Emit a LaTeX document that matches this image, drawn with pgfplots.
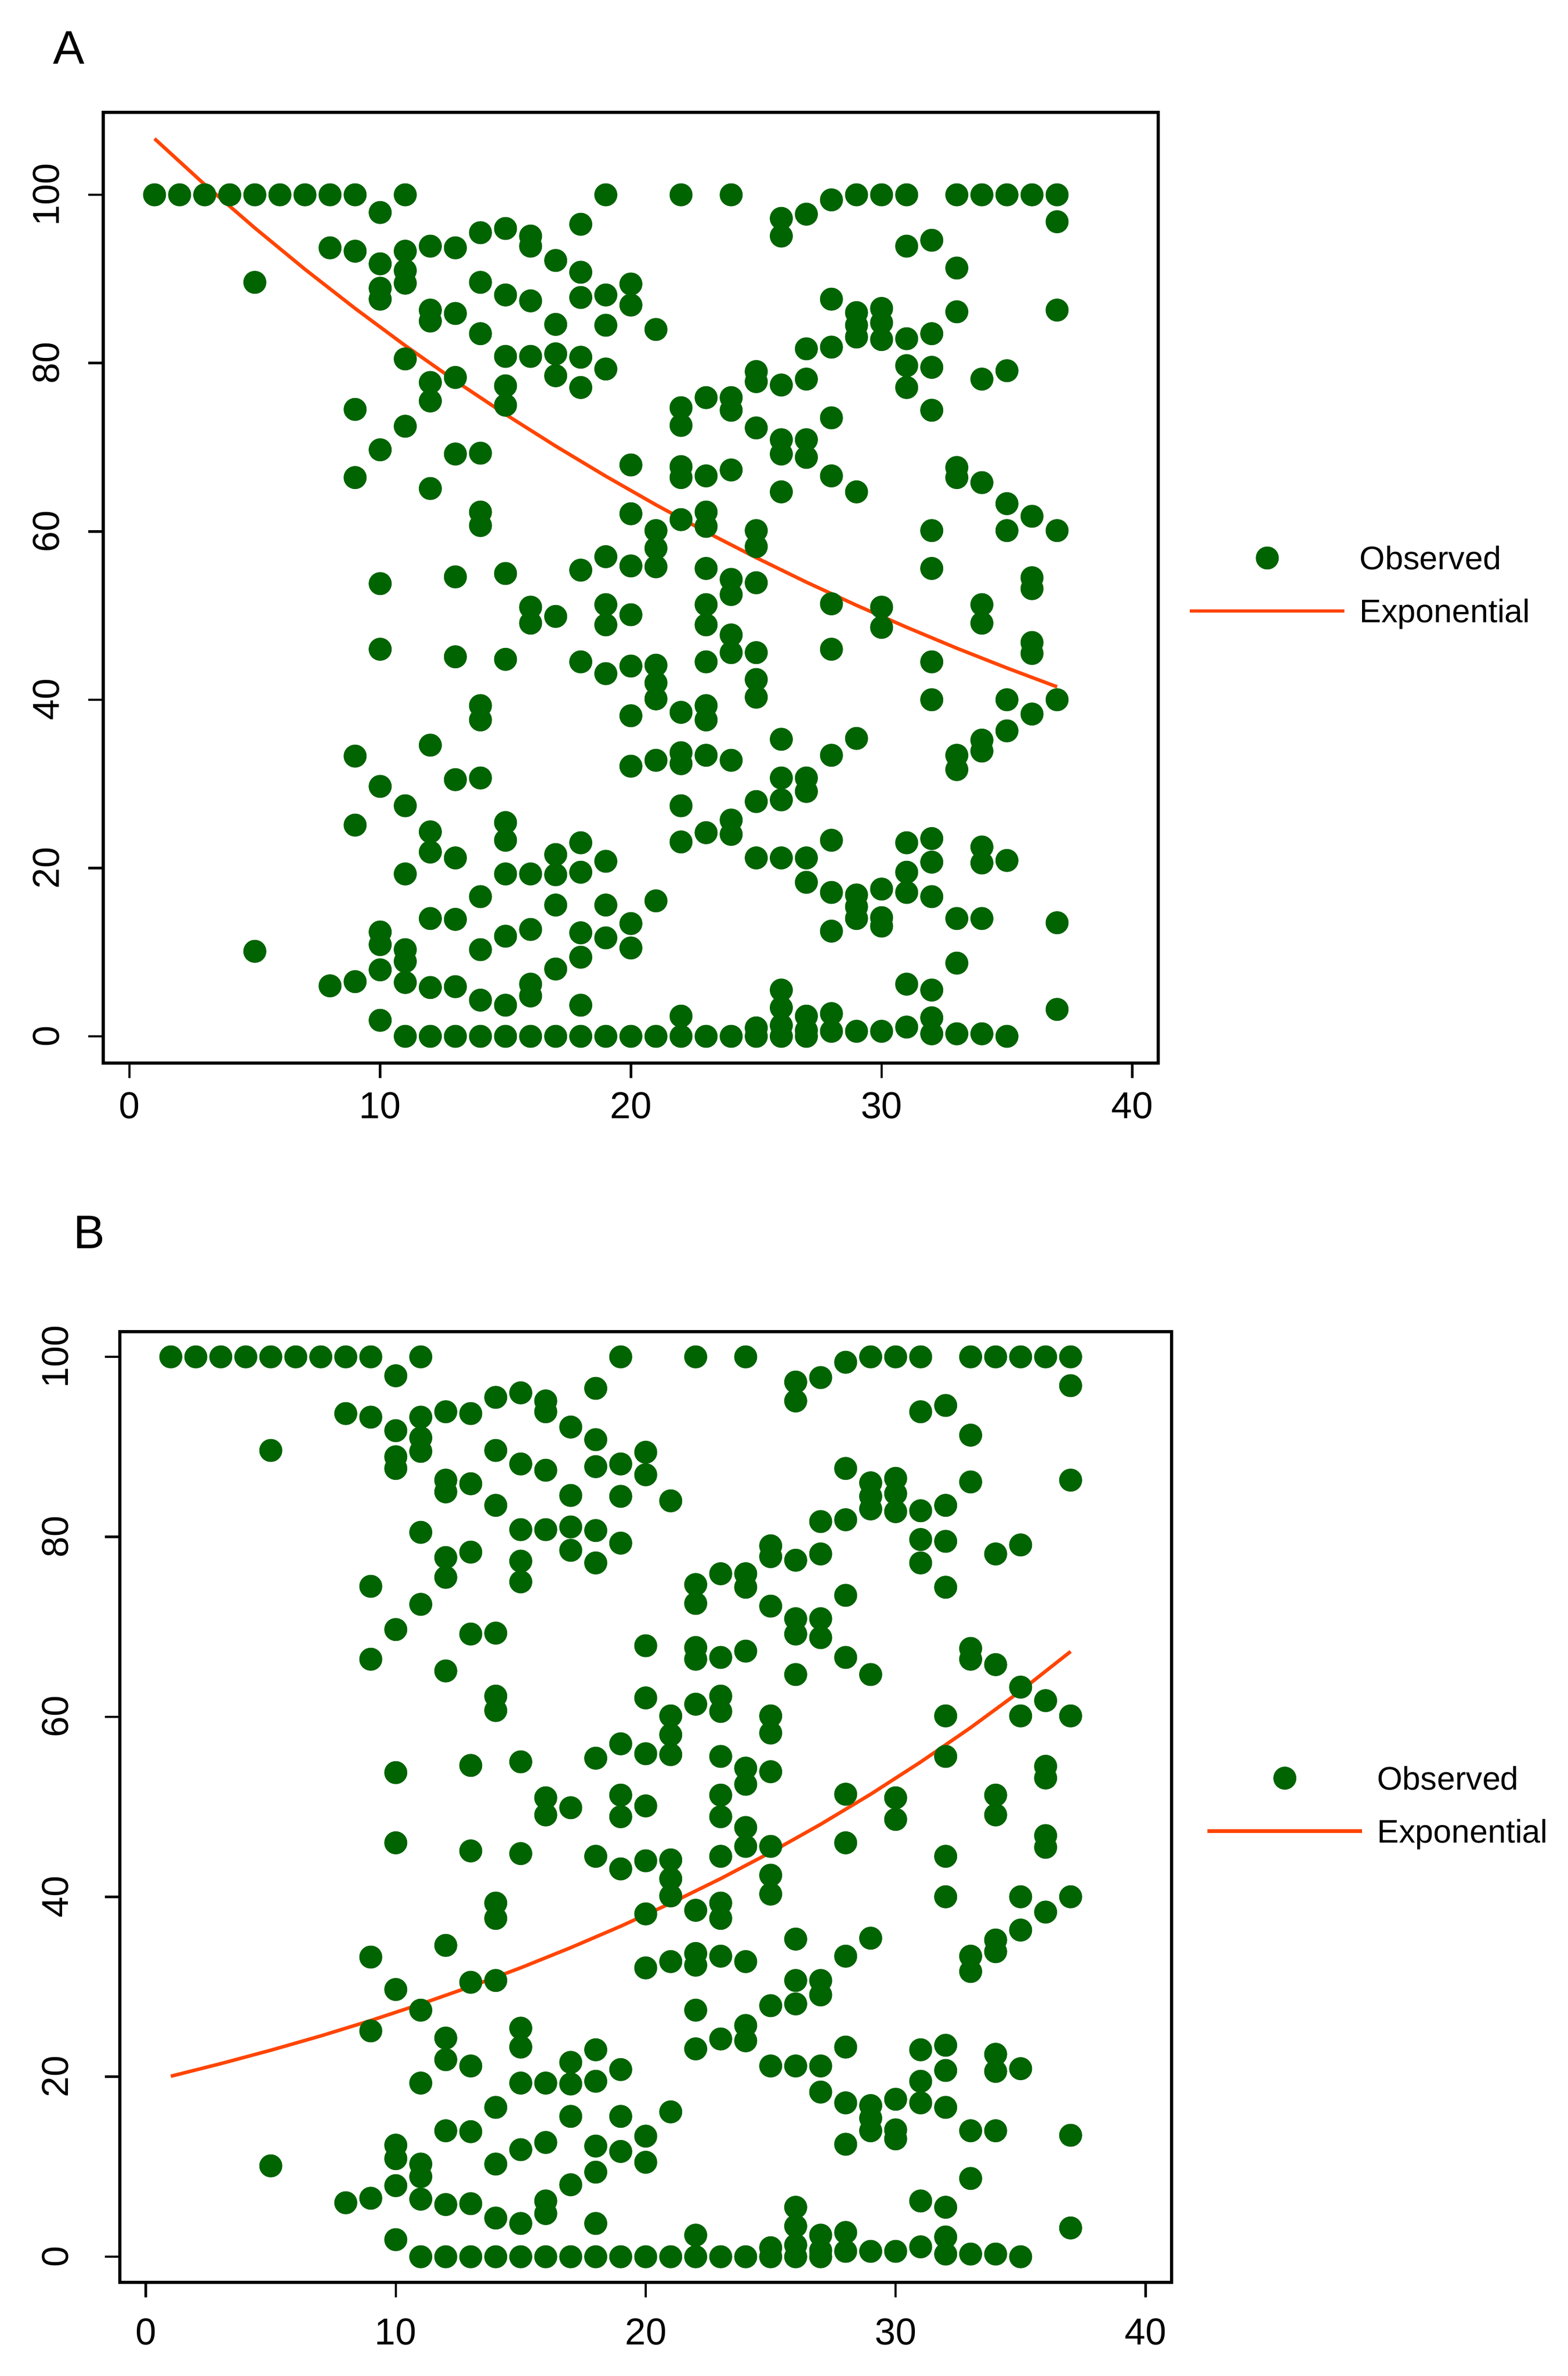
\documentclass[border=0pt]{standalone}
\usepackage{pgfplots}
\pgfplotsset{compat=1.18}
\usepackage{pgfplotstable}
\usepackage{fontspec}
\setmainfont{Liberation Sans}
\definecolor{dgreen}{RGB}{0,100,0}
\definecolor{ored}{RGB}{255,69,0}

\pgfplotstableread[row sep=\\]{
x y\\
1 100\\ 2 100\\ 3 100\\ 4 100\\
5 100\\ 5 89.6\\ 5 10.1\\
6 100\\ 7 100\\
8 100\\ 8 93.7\\ 8 6.0\\
9 100\\ 9 93.3\\ 9 74.5\\ 9 66.4\\ 9 33.3\\ 9 25.1\\ 9 6.5\\
10 97.9\\ 10 91.8\\ 10 88.9\\ 10 87.6\\ 10 69.7\\ 10 53.8\\ 10 46.0\\ 10 29.7\\ 10 12.4\\ 10 10.9\\ 10 7.9\\ 10 1.9\\
11 100\\ 11 93.3\\ 11 91.0\\ 11 89.5\\ 11 80.5\\ 11 72.5\\ 11 27.4\\ 11 19.3\\ 11 10.3\\ 11 8.9\\ 11 6.4\\ 11 0\\
12 93.9\\ 12 86.3\\ 12 85.0\\ 12 77.7\\ 12 75.5\\ 12 65.1\\ 12 34.6\\ 12 24.3\\ 12 21.9\\ 12 14.0\\ 12 5.8\\ 12 0\\
13 93.7\\ 13 85.9\\ 13 78.3\\ 13 69.2\\ 13 54.6\\ 13 45.1\\ 13 30.5\\ 13 21.2\\ 13 13.9\\ 13 5.9\\ 13 0\\
14 95.5\\ 14 89.6\\ 14 83.5\\ 14 69.3\\ 14 62.3\\ 14 60.7\\ 14 39.3\\ 14 37.6\\ 14 30.7\\ 14 16.6\\ 14 10.3\\ 14 4.3\\ 14 0\\
15 96.0\\ 15 88.1\\ 15 80.8\\ 15 77.3\\ 15 75.0\\ 15 55.0\\ 15 44.8\\ 15 25.4\\ 15 23.3\\ 15 19.3\\ 15 11.9\\ 15 3.7\\ 15 0\\
16 95.1\\ 16 93.9\\ 16 87.4\\ 16 80.8\\ 16 51.0\\ 16 49.1\\ 16 19.3\\ 16 12.7\\ 16 6.2\\ 16 4.8\\ 16 0\\
17 92.2\\ 17 84.6\\ 17 81.1\\ 17 78.5\\ 17 49.9\\ 17 21.6\\ 17 19.2\\ 17 15.6\\ 17 8.0\\ 17 0\\
18 96.5\\ 18 90.8\\ 18 87.8\\ 18 80.7\\ 18 77.1\\ 18 55.4\\ 18 44.5\\ 18 23.0\\ 18 19.5\\ 18 12.3\\ 18 9.4\\ 18 3.7\\ 18 0\\
19 100\\ 19 88.1\\ 19 84.5\\ 19 79.3\\ 19 57.0\\ 19 51.3\\ 19 48.9\\ 19 43.1\\ 19 20.8\\ 19 15.6\\ 19 11.7\\ 19 0\\
20 89.4\\ 20 86.9\\ 20 67.9\\ 20 62.1\\ 20 55.9\\ 20 50.1\\ 20 44.0\\ 20 38.1\\ 20 32.1\\ 20 13.4\\ 20 10.5\\ 20 0\\
21 84.0\\ 21 60.1\\ 21 58.0\\ 21 55.8\\ 21 44.1\\ 21 42.0\\ 21 40.1\\ 21 32.8\\ 21 16.1\\ 21 0\\
22 100\\ 22 74.7\\ 22 72.6\\ 22 67.7\\ 22 66.4\\ 22 61.4\\ 22 38.5\\ 22 33.7\\ 22 32.4\\ 22 27.4\\ 22 23.1\\ 22 2.4\\ 22 0\\
23 75.9\\ 23 66.6\\ 23 62.3\\ 23 60.6\\ 23 55.6\\ 23 51.3\\ 23 48.9\\ 23 44.5\\ 23 39.3\\ 23 37.6\\ 23 33.4\\ 23 24.2\\ 23 0\\
24 100\\ 24 75.9\\ 24 74.4\\ 24 67.3\\ 24 54.3\\ 24 52.5\\ 24 47.7\\ 24 45.6\\ 24 32.8\\ 24 25.7\\ 24 24.0\\ 24 0\\
25 79.0\\ 25 77.8\\ 25 72.3\\ 25 60.1\\ 25 58.2\\ 25 53.9\\ 25 45.6\\ 25 42.4\\ 25 40.3\\ 25 27.9\\ 25 21.2\\ 25 1.0\\ 25 0\\
26 97.2\\ 26 95.1\\ 26 77.4\\ 26 70.9\\ 26 69.2\\ 26 64.7\\ 26 35.3\\ 26 30.7\\ 26 28.1\\ 26 21.2\\ 26 5.5\\ 26 3.4\\ 26 1.3\\ 26 0\\
27 97.7\\ 27 81.7\\ 27 78.1\\ 27 70.9\\ 27 68.8\\ 27 30.7\\ 27 29.1\\ 27 21.2\\ 27 18.3\\ 27 2.4\\ 27 0.7\\ 27 0\\
28 99.4\\ 28 87.6\\ 28 81.9\\ 28 73.5\\ 28 66.6\\ 28 51.4\\ 28 46.0\\ 28 33.4\\ 28 23.3\\ 28 17.1\\ 28 12.5\\ 28 2.7\\ 28 0.6\\
29 100\\ 29 86.0\\ 29 84.5\\ 29 83.1\\ 29 64.7\\ 29 35.4\\ 29 16.8\\ 29 15.4\\ 29 14.0\\ 29 0.6\\
30 100\\ 30 86.5\\ 30 84.8\\ 30 82.8\\ 30 51.0\\ 30 48.6\\ 30 17.5\\ 30 14.1\\ 30 13.1\\ 30 0.6\\
31 100\\ 31 93.9\\ 31 82.9\\ 31 79.7\\ 31 77.1\\ 31 23.0\\ 31 19.5\\ 31 17.1\\ 31 6.2\\ 31 1.1\\
32 94.6\\ 32 83.5\\ 32 79.5\\ 32 74.4\\ 32 60.1\\ 32 55.6\\ 32 44.5\\ 32 40.0\\ 32 23.5\\ 32 20.7\\ 32 16.6\\ 32 5.5\\ 32 2.2\\ 32 0.3\\
33 100\\ 33 91.3\\ 33 86.1\\ 33 67.6\\ 33 66.4\\ 33 33.4\\ 33 31.7\\ 33 14.0\\ 33 8.7\\ 33 0.3\\
34 100\\ 34 78.1\\ 34 65.8\\ 34 51.3\\ 34 49.1\\ 34 35.2\\ 34 33.9\\ 34 22.5\\ 34 20.6\\ 34 14.0\\ 34 0.3\\
35 100\\ 35 79.1\\ 35 63.3\\ 35 60.1\\ 35 40.0\\ 35 36.3\\ 35 20.9\\ 35 0\\
36 100\\ 36 61.8\\ 36 54.5\\ 36 53.2\\ 36 46.8\\ 36 45.5\\ 36 38.3\\
37 100\\ 37 96.8\\ 37 86.3\\ 37 60.1\\ 37 40.0\\ 37 13.5\\ 37 3.2\\
}\obs

\pgfplotstableread[row sep=\\]{
x y\\
1 106.67\\ 3 101.22\\ 5 96.06\\ 7 91.15\\ 9 86.50\\ 11 82.08\\ 13 77.89\\ 15 73.91\\ 17 70.14\\ 19 66.56\\
21 63.16\\ 23 59.94\\ 25 56.88\\ 27 53.97\\ 29 51.22\\ 31 48.61\\ 33 46.12\\ 35 43.77\\ 37 41.53\\
}\fitA

\pgfplotstableread[row sep=\\]{
x y\\
1 20.06\\ 3 21.46\\ 5 22.95\\ 7 24.54\\ 9 26.25\\ 11 28.08\\ 13 30.03\\ 15 32.11\\ 17 34.35\\ 19 36.73\\
21 39.29\\ 23 42.02\\ 25 44.94\\ 27 48.06\\ 29 51.40\\ 31 54.98\\ 33 58.80\\ 35 62.88\\ 37 67.26\\
}\fitB

\pgfplotsset{
  rstyle/.style={
    scale only axis,
    anchor=south west,
    height=177.7pt,
    xmin=-1.04, xmax=41.04,
    xtick={0,10,20,30,40},
    ytick={0,20,40,60,80,100},
    tick pos=left,
    tick align=outside,
    major tick length=2.8pt,
    tick style={black, line width=0.45pt},
    axis line style={line width=0.6pt},
    /pgf/number format/assume math mode=true,
    ticklabel style={font=\fontsize{7}{8}\selectfont, inner sep=0pt},
    xticklabel style={anchor=north},
    yticklabel style={rotate=90, anchor=south},
    legend cell align=left,
    legend style={draw=none, fill=none, inner sep=0pt, row sep=5.5pt, column sep=2.5pt,
      font=\fontsize{6.1}{7.3}\selectfont,
      nodes={inner sep=0pt, text height=4.4pt, text depth=0pt}},
  },
  obsstyle/.style={only marks, mark=*, mark size=2.1pt,
    mark options={fill=dgreen, draw=dgreen, line width=0.1pt},
    legend image code/.code={\draw[mark repeat=2,mark phase=2,##1] plot coordinates {(0pt,0pt) (14.45pt,0pt) (28.9pt,0pt)};}},
  fitstyle/.style={no marks, color=ored, line width=0.65pt,
    legend image code/.code={\draw[##1] (0pt,0pt) -- (28.9pt,0pt);}},
}

\begin{document}
\begin{tikzpicture}
\useasboundingbox (0,0) rectangle (293pt,-444.1pt);
\node[anchor=base west, inner sep=0pt, font=\fontsize{8.8}{10}\selectfont] at (9.76pt,-12.0pt) {A};
\node[anchor=base west, inner sep=0pt, font=\fontsize{8.8}{10}\selectfont] at (13.5pt,-233.3pt) {B};

\begin{axis}[rstyle, at={(19.33pt,-198.7pt)}, width=197.2pt,
  ymin=-3.18, ymax=109.8,
  xticklabel shift=2.5pt, yticklabel shift=5.2pt,
  legend style={at={(1.0273,0.5034)}, anchor=west}]
\addplot[obsstyle] table {\obs};
\addlegendentry{Observed}
\addplot[fitstyle] table {\fitA};
\addlegendentry{Exponential}
\end{axis}

\begin{axis}[rstyle, at={(22.4pt,-426.6pt)}, width=196.6pt,
  ymin=-2.85, ymax=102.8,
  xticklabel shift=3.8pt, yticklabel shift=6.6pt,
  legend style={at={(1.0315,0.5025)}, anchor=west}]
\addplot[obsstyle] table {\obs};
\addlegendentry{Observed}
\addplot[fitstyle] table {\fitB};
\addlegendentry{Exponential}
\end{axis}
\end{tikzpicture}
\end{document}
